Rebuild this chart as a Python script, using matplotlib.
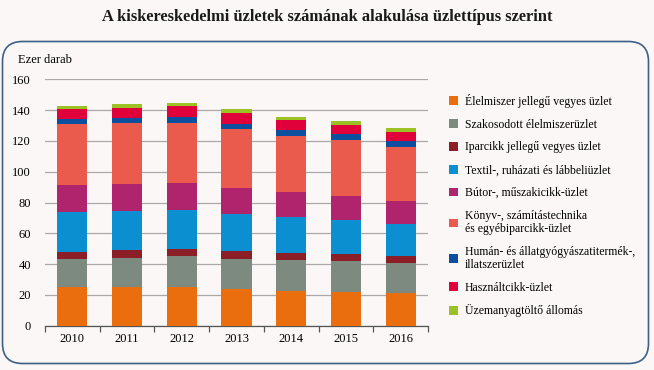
import numpy as np
import matplotlib
matplotlib.use('Agg')
import matplotlib.pyplot as plt
from matplotlib.patches import FancyBboxPatch, Patch

years = ['2010', '2011', '2012', '2013', '2014', '2015', '2016']

series = [
    'Élelmiszer jellegű vegyes üzlet',
    'Szakosodott élelmiszerüzlet',
    'Iparcikk jellegű vegyes üzlet',
    'Textil-, ruházati és lábbeliüzlet',
    'Bútor-, műszakicikk-üzlet',
    'Könyv-, számítástechnika\nés egyébiparcikk-üzlet',
    'Humán- és állatgyógyászatitermék-,\nillatszerüzlet',
    'Használtcikk-üzlet',
    'Üzemanyagtöltő állomás',
]

elelmiszer = [24.9, 24.9, 24.9, 23.6, 22.7, 21.9, 21.0]
szakosodott = [18.4, 19.3, 20.3, 19.7, 19.9, 20.1, 19.5]
iparcikk = [4.8, 4.7, 4.8, 5.2, 4.8, 4.5, 4.7]
textil = [25.5, 25.3, 25.1, 24.2, 22.9, 21.9, 20.8]
butor = [18.0, 18.0, 17.8, 16.9, 16.3, 16.0, 15.0]
konyv = [39.4, 39.2, 38.7, 38.1, 36.8, 36.2, 35.2]
human = [3.0, 3.2, 3.7, 3.5, 3.4, 3.6, 3.5]
hasznalt = [6.5, 7.0, 7.3, 7.1, 6.7, 6.3, 6.3]
uzemanyag = [2.1, 2.6, 2.2, 2.2, 2.2, 2.2, 2.1]

values = [elelmiszer, szakosodott, iparcikk, textil, butor, konyv, human, hasznalt, uzemanyag]
colors = ['#ea6e0e', '#7d8a80', '#8c1e28', '#0b8fd0', '#b0236d',
          '#ea5b4e', '#0b4f9e', '#e0003a', '#9cc124']

bg = '#fbf7f6'
plt.rcParams['font.family'] = ['Liberation Serif', 'DejaVu Serif']

fig = plt.figure(figsize=(6.54, 3.70), dpi=100, facecolor=bg)

# rounded frame, drawn in inches so the corners stay circular
frame = FancyBboxPatch((0.025, 0.065), 6.46, 3.22,
                       boxstyle='round,pad=0,rounding_size=0.2',
                       transform=fig.dpi_scale_trans, facecolor=bg,
                       edgecolor='#3c6088', linewidth=1.2, zorder=-1)
fig.patches.append(frame)

fig.text(0.5, 1 - 17 / 370, 'A kiskereskedelmi üzletek számának alakulása üzlettípus szerint',
         ha='center', va='center', fontsize=11.8, fontweight='bold', color='#1a1a1a')

ax = fig.add_axes([45 / 654, 1 - 325.7 / 370, 383 / 654, 246.4 / 370])
ax.set_facecolor(bg)

x = np.arange(len(years))
bottom = np.zeros(len(years))
for vals, col, lab in zip(values, colors, series):
    ax.bar(x, vals, width=0.55, bottom=bottom, color=col, label=lab, zorder=3)
    bottom += np.array(vals)

ax.set_xlim(-0.5, len(years) - 0.5)
ax.set_ylim(0, 160)
ax.set_yticks(np.arange(0, 161, 20))
ax.grid(axis='y', color='#a9a9a9', linewidth=0.9, zorder=0)
ax.set_xticks(x)
ax.set_xticklabels(years)
ax.set_xticks(np.arange(-0.5, len(years)), minor=True)
ax.tick_params(axis='x', which='major', length=0, pad=5, labelsize=9)
ax.tick_params(axis='x', which='minor', length=4, color='#555555', width=0.9)
ax.tick_params(axis='y', length=0, pad=10, labelsize=9)
for s in ['top', 'right', 'left']:
    ax.spines[s].set_visible(False)
ax.spines['bottom'].set_color('#555555')
ax.spines['bottom'].set_linewidth(0.9)

fig.text(18 / 654, 1 - 60 / 370, 'Ezer darab', ha='left', va='center', fontsize=9)

handles = [Patch(facecolor=c, edgecolor='none') for c in colors]
leg = fig.legend(handles, series, loc='upper left',
                 bbox_to_anchor=(444 / 654, 1 - 89 / 370),
                 frameon=False, fontsize=8.5, handlelength=0.75, handleheight=0.75,
                 handletextpad=0.6, labelspacing=0.92, borderaxespad=0)
for t in leg.get_texts():
    t.set_linespacing(1.1)

fig.savefig('out.png', dpi=100, facecolor=bg)
